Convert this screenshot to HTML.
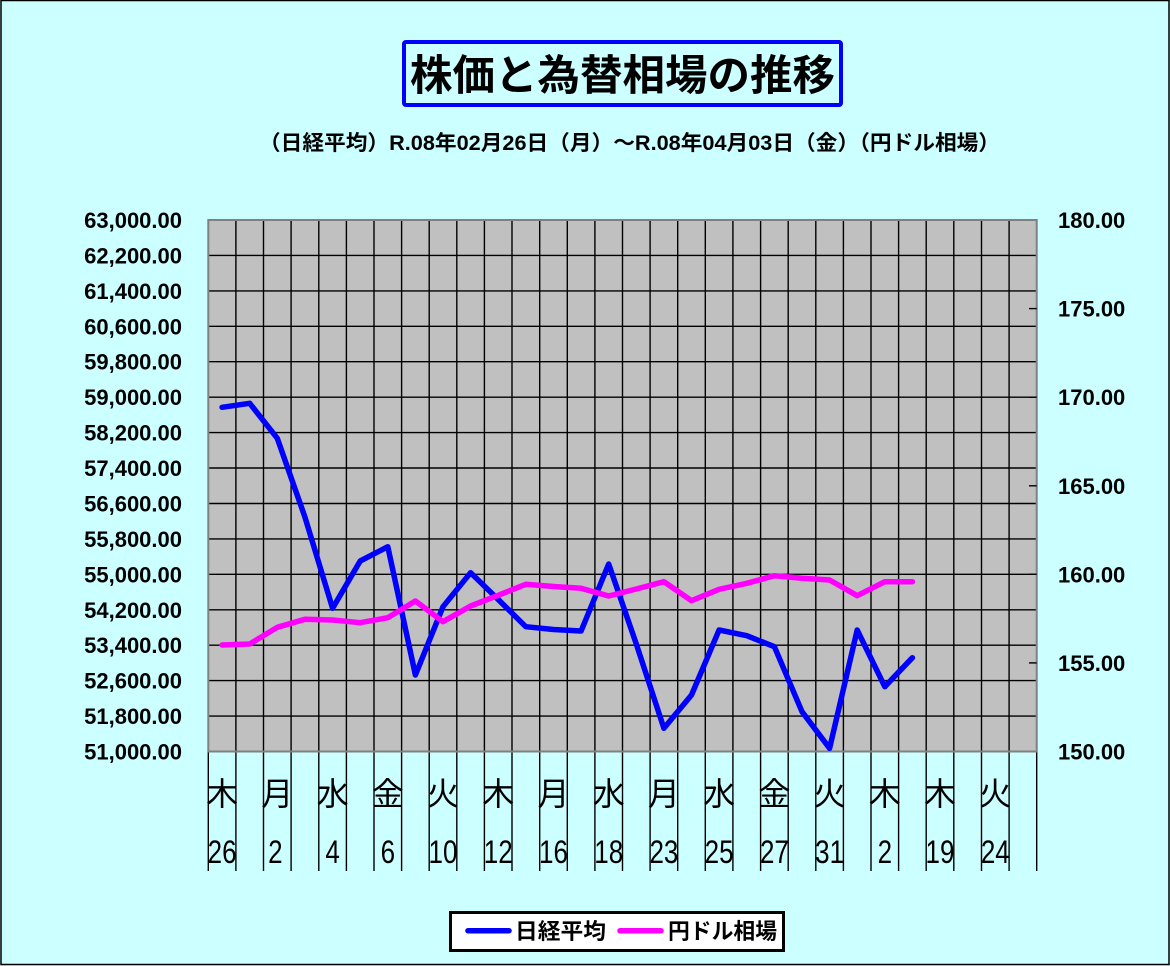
<!DOCTYPE html>
<html><head><meta charset="utf-8"><style>
html,body{margin:0;padding:0;background:#CCFFFF;}
svg{display:block;}
text{font-family:"Liberation Sans","Noto Sans CJK JP",sans-serif;fill:#000;}
</style></head><body>
<svg width="1170" height="966" viewBox="0 0 1170 966" xmlns="http://www.w3.org/2000/svg">
<rect x="0" y="0" width="1170" height="966" fill="#CCFFFF"/>
<rect x="1" y="0.5" width="1168" height="964" fill="none" stroke="#000" stroke-width="1.5"/>

<!-- Title -->
<rect x="404" y="42" width="437" height="63" rx="2" fill="#CCFFFF" stroke="#0000FF" stroke-width="4"/>
<text x="410" y="90" font-size="42" font-weight="bold" textLength="425" lengthAdjust="spacingAndGlyphs">株価と為替相場の推移</text>
<text x="259" y="150" font-size="21" font-weight="bold" textLength="741" lengthAdjust="spacingAndGlyphs">（日経平均）R.08年02月26日（月）～R.08年04月03日（金）（円ドル相場）</text>

<!-- Plot area -->
<rect x="208.3" y="220" width="828.4" height="531.5" fill="#C0C0C0"/>
<g stroke="#000" stroke-width="1.4" fill="none" id="hgrid">
<line x1="208.3" x2="1036.7" y1="255.4" y2="255.4"/>
<line x1="208.3" x2="1036.7" y1="290.9" y2="290.9"/>
<line x1="208.3" x2="1036.7" y1="326.3" y2="326.3"/>
<line x1="208.3" x2="1036.7" y1="361.7" y2="361.7"/>
<line x1="208.3" x2="1036.7" y1="397.2" y2="397.2"/>
<line x1="208.3" x2="1036.7" y1="432.6" y2="432.6"/>
<line x1="208.3" x2="1036.7" y1="468.0" y2="468.0"/>
<line x1="208.3" x2="1036.7" y1="503.5" y2="503.5"/>
<line x1="208.3" x2="1036.7" y1="538.9" y2="538.9"/>
<line x1="208.3" x2="1036.7" y1="574.3" y2="574.3"/>
<line x1="208.3" x2="1036.7" y1="609.8" y2="609.8"/>
<line x1="208.3" x2="1036.7" y1="645.2" y2="645.2"/>
<line x1="208.3" x2="1036.7" y1="680.6" y2="680.6"/>
<line x1="208.3" x2="1036.7" y1="716.1" y2="716.1"/>
<line x1="208.3" x2="1036.7" y1="751.5" y2="751.5"/>
</g>
<g stroke="#000" stroke-width="1.4">
<line x1="208.3" x2="208.3" y1="220" y2="871"/>
<line x1="235.9" x2="235.9" y1="220" y2="871"/>
<line x1="263.5" x2="263.5" y1="220" y2="871"/>
<line x1="291.1" x2="291.1" y1="220" y2="871"/>
<line x1="318.8" x2="318.8" y1="220" y2="871"/>
<line x1="346.4" x2="346.4" y1="220" y2="871"/>
<line x1="374.0" x2="374.0" y1="220" y2="871"/>
<line x1="401.6" x2="401.6" y1="220" y2="871"/>
<line x1="429.2" x2="429.2" y1="220" y2="871"/>
<line x1="456.8" x2="456.8" y1="220" y2="871"/>
<line x1="484.4" x2="484.4" y1="220" y2="871"/>
<line x1="512.0" x2="512.0" y1="220" y2="871"/>
<line x1="539.7" x2="539.7" y1="220" y2="871"/>
<line x1="567.3" x2="567.3" y1="220" y2="871"/>
<line x1="594.9" x2="594.9" y1="220" y2="871"/>
<line x1="622.5" x2="622.5" y1="220" y2="871"/>
<line x1="650.1" x2="650.1" y1="220" y2="871"/>
<line x1="677.7" x2="677.7" y1="220" y2="871"/>
<line x1="705.3" x2="705.3" y1="220" y2="871"/>
<line x1="732.9" x2="732.9" y1="220" y2="871"/>
<line x1="760.6" x2="760.6" y1="220" y2="871"/>
<line x1="788.2" x2="788.2" y1="220" y2="871"/>
<line x1="815.8" x2="815.8" y1="220" y2="871"/>
<line x1="843.4" x2="843.4" y1="220" y2="871"/>
<line x1="871.0" x2="871.0" y1="220" y2="871"/>
<line x1="898.6" x2="898.6" y1="220" y2="871"/>
<line x1="926.2" x2="926.2" y1="220" y2="871"/>
<line x1="953.8" x2="953.8" y1="220" y2="871"/>
<line x1="981.5" x2="981.5" y1="220" y2="871"/>
<line x1="1009.1" x2="1009.1" y1="220" y2="871"/>
<line x1="1036.7" x2="1036.7" y1="220" y2="871"/>
</g>
<rect x="208.3" y="220" width="828.4" height="531.5" fill="none" stroke="#808080" stroke-width="2"/>
<g stroke="#000" stroke-width="1.4">
<line x1="1029" x2="1036.7" y1="308.6" y2="308.6"/>
<line x1="1029" x2="1036.7" y1="397.2" y2="397.2"/>
<line x1="1029" x2="1036.7" y1="485.8" y2="485.8"/>
<line x1="1029" x2="1036.7" y1="574.3" y2="574.3"/>
<line x1="1029" x2="1036.7" y1="662.9" y2="662.9"/>
</g>

<!-- Left axis labels -->
<g font-size="22" font-weight="bold" text-anchor="end">
<text x="182" y="228">63,000.00</text>
<text x="182" y="263.4">62,200.00</text>
<text x="182" y="298.9">61,400.00</text>
<text x="182" y="334.3">60,600.00</text>
<text x="182" y="369.7">59,800.00</text>
<text x="182" y="405.2">59,000.00</text>
<text x="182" y="440.6">58,200.00</text>
<text x="182" y="476.0">57,400.00</text>
<text x="182" y="511.5">56,600.00</text>
<text x="182" y="546.9">55,800.00</text>
<text x="182" y="582.3">55,000.00</text>
<text x="182" y="617.8">54,200.00</text>
<text x="182" y="653.2">53,400.00</text>
<text x="182" y="688.6">52,600.00</text>
<text x="182" y="724.1">51,800.00</text>
<text x="182" y="759.5">51,000.00</text>
</g>
<!-- Right axis labels -->
<g font-size="22" font-weight="bold">
<text x="1058" y="228">180.00</text>
<text x="1058" y="316.6">175.00</text>
<text x="1058" y="405.2">170.00</text>
<text x="1058" y="493.8">165.00</text>
<text x="1058" y="582.3">160.00</text>
<text x="1058" y="670.9">155.00</text>
<text x="1058" y="759.5">150.00</text>
</g>

<!-- Category labels: day of week -->
<g font-size="32" text-anchor="middle">
<text x="222.1" y="805">木</text>
<text x="277.3" y="805">月</text>
<text x="332.6" y="805">水</text>
<text x="387.8" y="805">金</text>
<text x="443.0" y="805">火</text>
<text x="498.2" y="805">木</text>
<text x="553.5" y="805">月</text>
<text x="608.7" y="805">水</text>
<text x="663.9" y="805">月</text>
<text x="719.1" y="805">水</text>
<text x="774.4" y="805">金</text>
<text x="829.6" y="805">火</text>
<text x="884.8" y="805">木</text>
<text x="940.0" y="805">木</text>
<text x="995.3" y="805">火</text>
</g>
<!-- Category labels: dates -->
<g font-size="26" text-anchor="middle">
<text transform="translate(222.1,863) scale(1,1.23)">26</text>
<text transform="translate(275.3,863) scale(1,1.23)">2</text>
<text transform="translate(332.6,863) scale(1,1.23)">4</text>
<text transform="translate(387.8,863) scale(1,1.23)">6</text>
<text transform="translate(443.0,863) scale(1,1.23)">10</text>
<text transform="translate(498.2,863) scale(1,1.23)">12</text>
<text transform="translate(553.5,863) scale(1,1.23)">16</text>
<text transform="translate(608.7,863) scale(1,1.23)">18</text>
<text transform="translate(663.9,863) scale(1,1.23)">23</text>
<text transform="translate(719.1,863) scale(1,1.23)">25</text>
<text transform="translate(774.4,863) scale(1,1.23)">27</text>
<text transform="translate(829.6,863) scale(1,1.23)">31</text>
<text transform="translate(884.8,863) scale(1,1.23)">2</text>
<text transform="translate(940.0,863) scale(1,1.23)">19</text>
<text transform="translate(995.3,863) scale(1,1.23)">24</text>
</g>

<!-- Series -->
<polyline fill="none" stroke="#0000FF" stroke-width="5.5" stroke-linejoin="round" stroke-linecap="round"
points="222.1,407.3 249.7,403.3 277.3,438.3 304.9,517 332.6,608.3 360.2,561 387.8,546.7 415.4,675 443.0,606.7 470.6,572.7 498.2,599.5 525.8,626.7 553.5,629.5 581.1,631 608.7,564 636.3,644 663.9,728.3 691.5,695 719.1,630 746.8,635.7 774.4,646.7 802.0,711.7 829.6,748.3 857.2,630 884.8,686.7 912.4,657.7"/>
<polyline fill="none" stroke="#FF00FF" stroke-width="5.5" stroke-linejoin="round" stroke-linecap="round"
points="222.1,645 249.7,644 277.3,627.3 304.9,619.3 332.6,620 360.2,622.7 387.8,617.7 415.4,601 443.0,621.7 470.6,606 498.2,595.3 525.8,584.3 553.5,586.5 581.1,588.3 608.7,596 636.3,589 663.9,581.7 691.5,600.7 719.1,589.3 746.8,583.3 774.4,575.7 802.0,578.3 829.6,580 857.2,595.7 884.8,581.7 912.4,581.7"/>

<!-- Legend -->
<rect x="450.5" y="912.5" width="333" height="38" fill="#FFFFFF" stroke="#000" stroke-width="3"/>
<line x1="468" x2="509" y1="930.7" y2="930.7" stroke="#0000FF" stroke-width="5.5" stroke-linecap="round"/>
<text x="515" y="939" font-size="22" font-weight="bold" textLength="91" lengthAdjust="spacingAndGlyphs">日経平均</text>
<line x1="620" x2="661" y1="930.7" y2="930.7" stroke="#FF00FF" stroke-width="5.5" stroke-linecap="round"/>
<text x="668" y="939" font-size="22" font-weight="bold" textLength="109" lengthAdjust="spacingAndGlyphs">円ドル相場</text>
</svg>
</body></html>
